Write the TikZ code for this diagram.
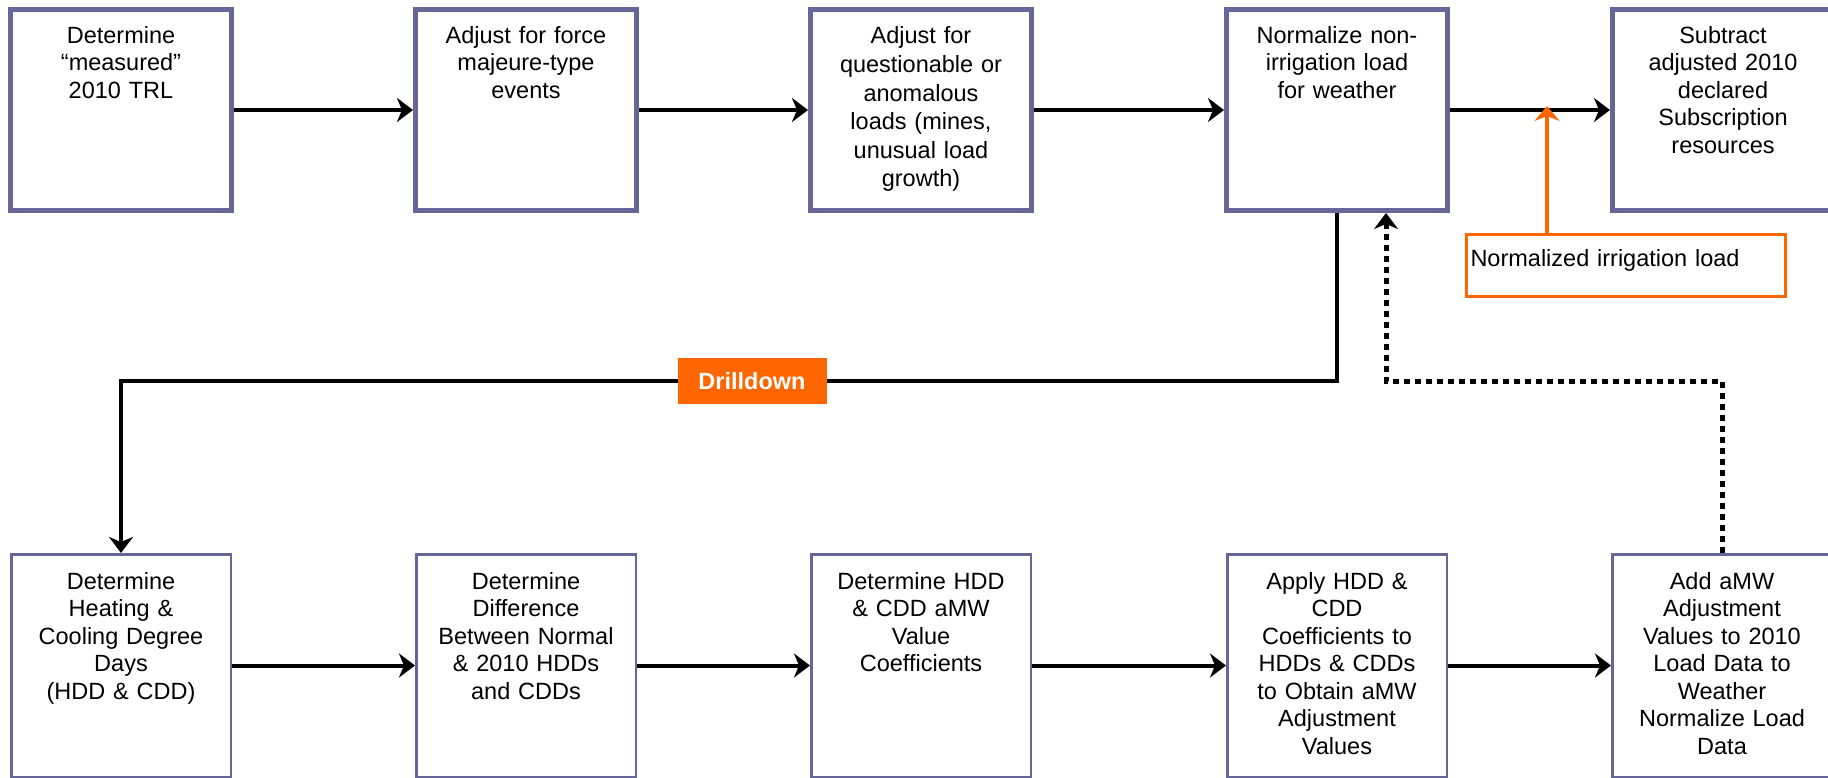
\documentclass[tikz,border=0pt]{standalone}
\usepackage{fontspec}
\setmainfont{Liberation Sans}
\usetikzlibrary{arrows.meta}
\definecolor{boxc}{HTML}{666699}
\definecolor{orng}{HTML}{FF6600}
\tikzset{
  topbox/.style={draw=boxc, line width=5pt, minimum width=221pt, minimum height=201pt, inner sep=0pt},
  botbox/.style={draw=boxc, line width=2.5pt, minimum width=219.5pt, minimum height=222.5pt, inner sep=0pt},
  boxtext/.style={anchor=north, inner sep=0pt, text width=215pt, align=center,
    font=\fontsize{23.5}{27.5}\selectfont},
  bigtip/.style={-{Stealth[length=16pt,width=24pt,inset=5pt]}},
  conn/.style={line width=4pt, bigtip},
  dotconn/.style={line width=5pt, dash pattern=on 6pt off 5pt, bigtip},
  orbox/.style={draw=orng, line width=3pt, text width=311pt, align=left, inner xsep=4pt,
    inner ysep=0pt, text height=32pt, text depth=30pt, font=\fontsize{23.5}{27.5}\selectfont},
  orconn/.style={draw=orng, line width=3.5pt, -{Stealth[length=15pt,width=25pt,inset=5pt]}},
  ddlabel/.style={fill=orng, text=white, minimum width=149pt, minimum height=46pt, inner sep=0pt,
    font=\fontsize{23.5}{27.5}\selectfont\bfseries},
}
\begin{document}
\begin{tikzpicture}[x=1pt,y=-1pt]
\useasboundingbox (0,0) rectangle (1828,778);
% top row
\node[topbox] (b1) at (121,110) {};
\node[topbox] (b2) at (526,110) {};
\node[topbox] (b3) at (921,110) {};
\node[topbox] (b4) at (1337,110) {};
\node[topbox] (b5) at (1723,110) {};
\node[boxtext] (t1) at ([yshift=-16.75pt]b1.north) {\strut Determine\\``measured''\\2010 TRL};
\node[boxtext] (t2) at ([yshift=-16.75pt]b2.north) {\strut Adjust for force\\majeure-type\\events};
\node[boxtext, font=\fontsize{23.5}{28.6}\selectfont] (t3) at ([yshift=-16.75pt]b3.north) {\strut Adjust for\\questionable or\\anomalous\\loads (mines,\\unusual load\\growth)};
\node[boxtext] (t4) at ([yshift=-16.75pt]b4.north) {\strut Normalize non-\\irrigation load\\for weather};
\node[boxtext] (t5) at ([yshift=-16.75pt]b5.north) {\strut Subtract\\adjusted 2010\\declared\\Subscription\\resources};
% bottom row
\node[botbox] (b6) at (121,665.5) {};
\node[botbox] (b7) at (526,665.5) {};
\node[botbox] (b8) at (921,665.5) {};
\node[botbox] (b9) at (1337,665.5) {};
\node[botbox] (b10) at (1722,665.5) {};
\node[boxtext] (t6) at ([yshift=-16.75pt]b6.north) {\strut Determine\\Heating \&\\Cooling Degree\\Days\\(HDD \& CDD)};
\node[boxtext] (t7) at ([yshift=-16.75pt]b7.north) {\strut Determine\\Difference\\Between Normal\\\& 2010 HDDs\\and CDDs};
\node[boxtext] (t8) at ([yshift=-16.75pt]b8.north) {\strut Determine HDD\\\& CDD aMW\\Value\\Coefficients};
\node[boxtext] (t9) at ([yshift=-16.75pt]b9.north) {\strut Apply HDD \&\\CDD\\Coefficients to\\HDDs \& CDDs\\to Obtain aMW\\Adjustment\\Values};
\node[boxtext] (t10) at ([yshift=-16.75pt]b10.north) {\strut Add aMW\\Adjustment\\Values to 2010\\Load Data to\\Weather\\Normalize Load\\Data};
% row connectors
\draw[conn] (b1.east) -- (b2.west);
\draw[conn] (b2.east) -- (b3.west);
\draw[conn] (b3.east) -- (b4.west);
\draw[conn] (b4.east) -- (b5.west);
\draw[conn] (b6.east) -- (b7.west);
\draw[conn] (b7.east) -- (b8.west);
\draw[conn] (b8.east) -- (b9.west);
\draw[conn] (b9.east) -- (b10.west);
% drilldown
\coordinate (c1) at (1337,381);
\coordinate (c2) at (121,381);
\draw[conn] (b4.south) -- (c1) -- (c2) -- (b6.north);
\node[ddlabel] (dd) at (752,381) {Drilldown};
% dotted feedback
\coordinate (d1) at (1722,381);
\coordinate (d2) at (1386,381);
\draw[dotconn] (b10.north) -- (d1) -- (d2) -- (b4.south -| d2);
% irrigation
\node[orbox] (irr) at (1626,265.5) {Normalized irrigation load};
\coordinate (oa) at (1547,106);
\draw[orconn] (irr.north -| oa) -- (oa);
\end{tikzpicture}
\end{document}
